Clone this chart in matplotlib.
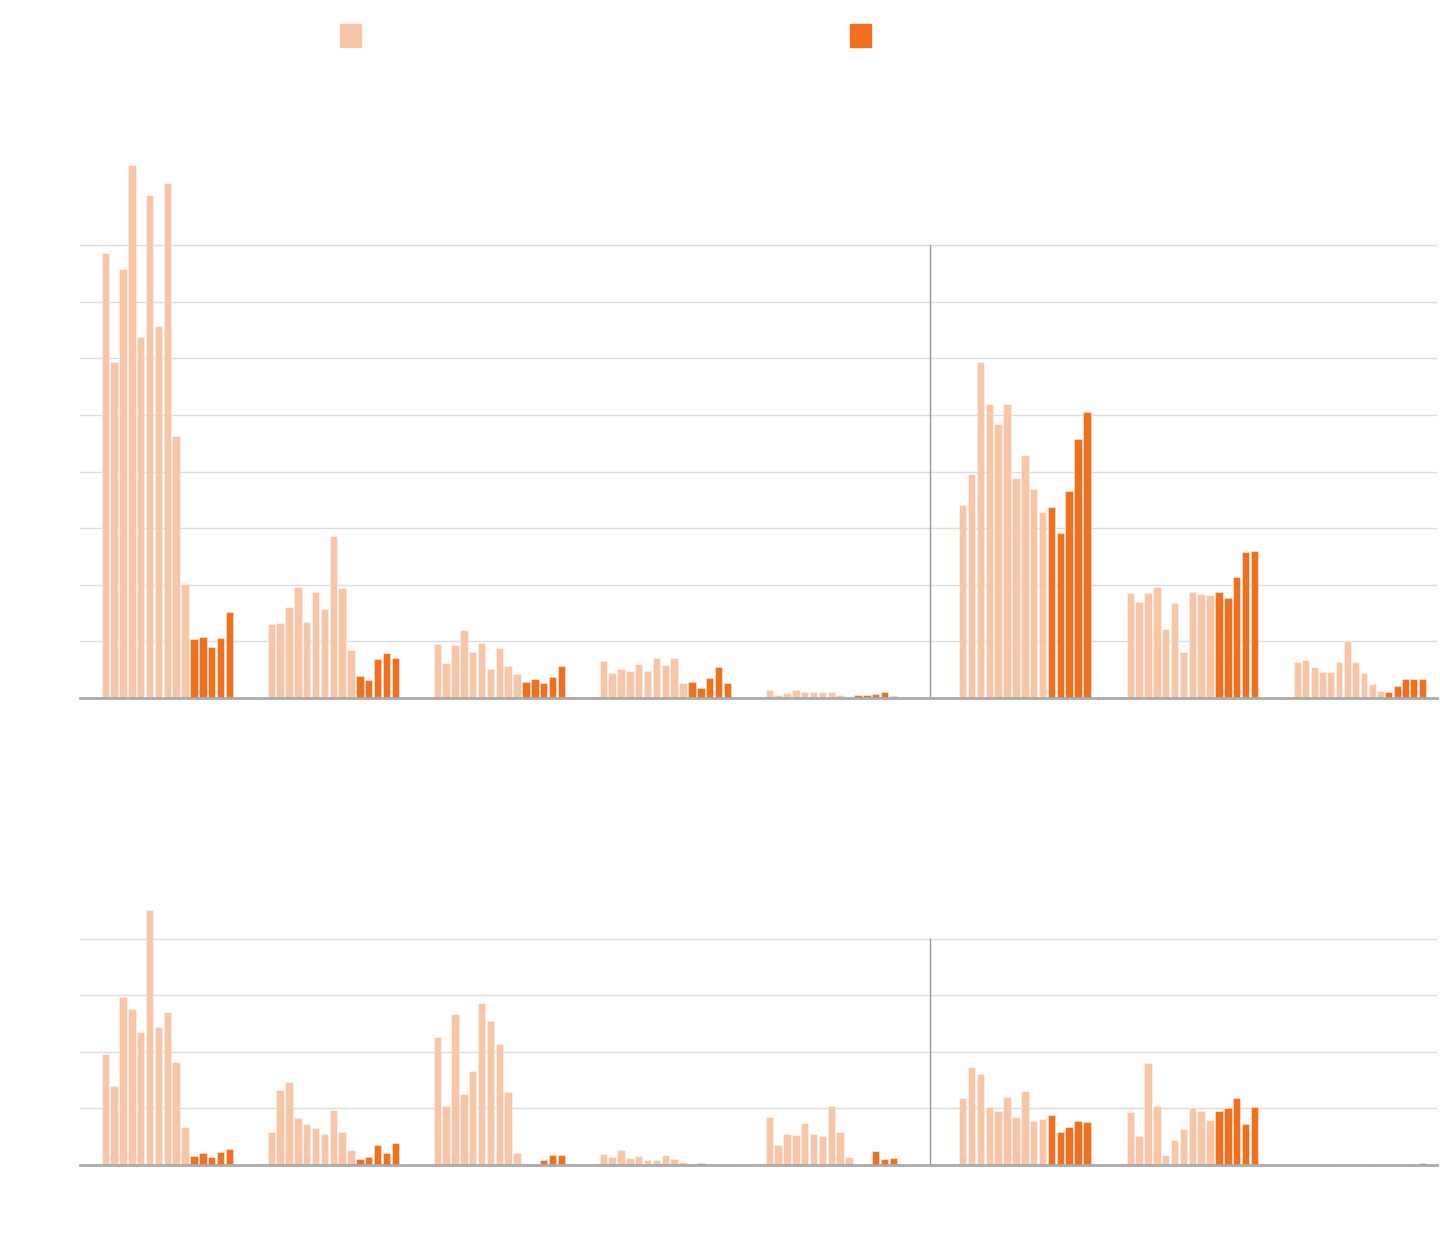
import matplotlib
matplotlib.use("Agg")
import matplotlib.pyplot as plt
from matplotlib.patches import Rectangle

# colores
claro = "#f8c5a6"
oscuro = "#f07020"

# PANEL SUPERIOR (unidades = una linea de la rejilla)
sup_1 = [7.86, 5.94, 7.58, 9.42, 6.38, 8.89, 6.57, 9.10, 4.63, 2.02, 1.05, 1.08, 0.90, 1.06, 1.52]
sup_2 = [1.30, 1.33, 1.61, 1.96, 1.35, 1.87, 1.58, 2.87, 1.95, 0.85, 0.39, 0.31, 0.69, 0.79, 0.71]
sup_3 = [0.96, 0.61, 0.94, 1.20, 0.82, 0.98, 0.52, 0.89, 0.57, 0.43, 0.29, 0.33, 0.27, 0.375, 0.56]
sup_4 = [0.65, 0.44, 0.52, 0.48, 0.60, 0.47, 0.70, 0.59, 0.70, 0.26, 0.29, 0.17, 0.36, 0.54, 0.26]
sup_5 = [0.14, 0.05, 0.09, 0.15, 0.11, 0.10, 0.11, 0.11, 0.06, 0.02, 0.06, 0.05, 0.07, 0.11, 0.04]
sup_6 = [3.41, 3.96, 5.94, 5.19, 4.84, 5.19, 3.88, 4.30, 3.69, 3.28, 3.37, 2.92, 3.66, 4.57, 5.05]
sup_7 = [1.86, 1.69, 1.86, 1.96, 1.22, 1.67, 0.81, 1.87, 1.84, 1.82, 1.88, 1.76, 2.14, 2.58, 2.59]
sup_8 = [0.64, 0.67, 0.54, 0.46, 0.46, 0.64, 1.00, 0.64, 0.44, 0.24, 0.13, 0.11, 0.22, 0.33, 0.33, 0.34]

# PANEL INFERIOR
inf_1 = [1.96, 1.40, 2.96, 2.75, 2.35, 4.51, 2.43, 2.71, 1.82, 0.68, 0.16, 0.21, 0.15, 0.23, 0.28]
inf_2 = [0.59, 1.33, 1.46, 0.83, 0.72, 0.65, 0.55, 0.98, 0.58, 0.27, 0.10, 0.14, 0.36, 0.21, 0.39]
inf_3 = [2.26, 1.05, 2.66, 1.26, 1.66, 2.86, 2.55, 2.14, 1.29, 0.22, 0.02, 0.02, 0.08, 0.17, 0.18]
inf_4 = [0.20, 0.135, 0.26, 0.12, 0.16, 0.09, 0.09, 0.18, 0.10, 0.06, 0.02, 0.04, 0.02, 0.005, 0.02]
inf_5 = [0.85, 0.36, 0.55, 0.53, 0.75, 0.55, 0.52, 1.04, 0.59, 0.15, 0.005, 0.02, 0.25, 0.10, 0.12]
inf_6 = [1.18, 1.74, 1.61, 1.03, 0.96, 1.20, 0.85, 1.30, 0.77, 0.82, 0.88, 0.58, 0.68, 0.78, 0.76]
inf_7 = [0.93, 0.51, 1.81, 1.05, 0.17, 0.45, 0.63, 1.00, 0.96, 0.80, 0.96, 1.01, 1.19, 0.72, 1.03]
inf_8 = [0.005, 0, 0, 0.01, 0.01, 0, 0, 0, 0, 0.01, 0, 0, 0, 0, 0.015, 0.04]

# cuantas barras claras hay en cada grupo
n_claras = [10, 10, 10, 10, 10, 10, 10, 11]

W, H = 1440, 1248
fig = plt.figure(figsize=(W / 100, H / 100), dpi=100)
unidad = 56.6  # pixeles por linea de rejilla


def panel(base_px, ymax, nrejilla, grupos):
    ax = fig.add_axes([80 / W, (H - base_px) / H, 1357 / W, ymax * unidad / H])
    ax.set_xlim(80, 1437)
    ax.set_ylim(0, ymax)
    ax.axis("off")
    for g in range(1, nrejilla + 1):
        ax.axhline(g, color="#dcdcdc", lw=1, zorder=0)
    ax.plot([930, 930], [0, nrejilla], color="#999999", lw=1, zorder=1)
    for i, vals in enumerate(grupos):
        # dos secciones separadas por la linea vertical
        if i < 5:
            inicio = 101.5 + i * 166.0
        else:
            inicio = 959 + (i - 5) * 167.5
        paso = 133 / len(vals)
        xs = [inicio + k * paso for k in range(len(vals))]
        cols = [claro if k < n_claras[i] else oscuro for k in range(len(vals))]
        ax.bar(xs, vals, width=paso - 1.4, align="edge", color=cols,
               edgecolor=(1, 1, 1, 0.6), linewidth=0.5, zorder=2)
    ax.axhline(0, color="#aaaaaa", lw=2, zorder=3, clip_on=False)
    return ax


panel(698, 9.7, 8, [sup_1, sup_2, sup_3, sup_4, sup_5, sup_6, sup_7, sup_8])
panel(1165, 4.7, 4, [inf_1, inf_2, inf_3, inf_4, inf_5, inf_6, inf_7, inf_8])

# leyenda (solo los cuadros)
for x0, c in [(340, claro), (850, oscuro)]:
    fig.patches.append(Rectangle((x0 / W, 1 - 47 / H), 21 / W, 23 / H,
                                 transform=fig.transFigure, color=c))

fig.savefig("out.png", dpi=100)
